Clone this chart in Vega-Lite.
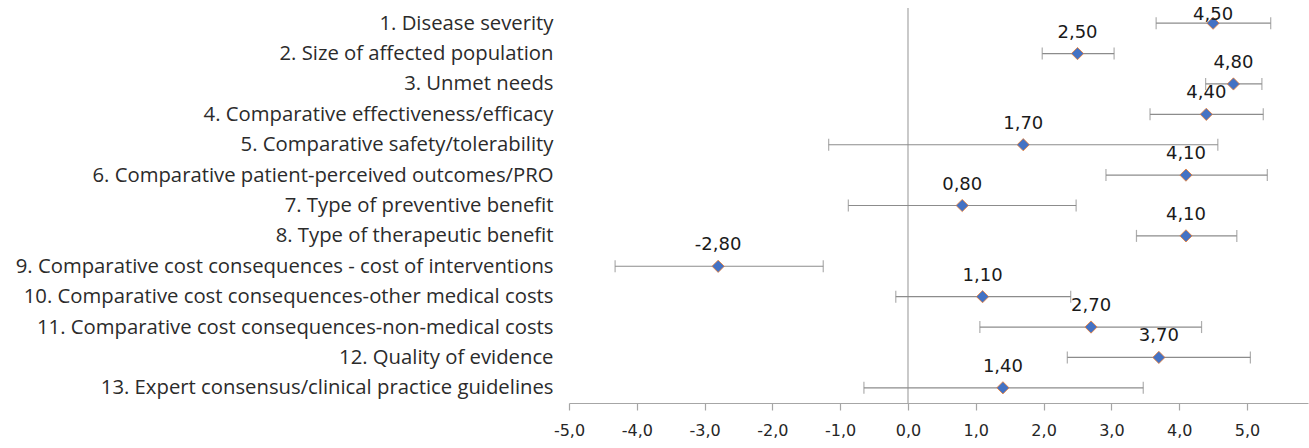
{
  "$schema": "https://vega.github.io/schema/vega-lite/v6.json",
  "autosize": {"type": "none"},
  "padding": {"left": 569, "top": 8, "right": 1, "bottom": 45},
  "width": 739,
  "height": 395,
  "background": "white",
  "config": {
    "view": {"stroke": null},
    "locale": {"number": {"decimal": ",", "thousands": ".", "grouping": [3], "currency": ["", ""], "minus": "-"}}
  },
  "datasets": {
    "criteria": [
      {"n": 1, "criterion": "1. Disease severity", "value": 4.5, "lo": 3.66, "hi": 5.35},
      {"n": 2, "criterion": "2. Size of affected population", "value": 2.5, "lo": 1.98, "hi": 3.04},
      {"n": 3, "criterion": "3. Unmet needs", "value": 4.8, "lo": 4.39, "hi": 5.22},
      {"n": 4, "criterion": "4. Comparative effectiveness/efficacy", "value": 4.4, "lo": 3.57, "hi": 5.24},
      {"n": 5, "criterion": "5. Comparative safety/tolerability", "value": 1.7, "lo": -1.17, "hi": 4.57},
      {"n": 6, "criterion": "6. Comparative patient-perceived outcomes/PRO", "value": 4.1, "lo": 2.92, "hi": 5.3},
      {"n": 7, "criterion": "7. Type of preventive benefit", "value": 0.8, "lo": -0.88, "hi": 2.48},
      {"n": 8, "criterion": "8. Type of therapeutic benefit", "value": 4.1, "lo": 3.37, "hi": 4.85},
      {"n": 9, "criterion": "9. Comparative cost consequences - cost of interventions", "value": -2.8, "lo": -4.32, "hi": -1.25},
      {"n": 10, "criterion": "10. Comparative cost consequences-other medical costs", "value": 1.1, "lo": -0.18, "hi": 2.4},
      {"n": 11, "criterion": "11. Comparative cost consequences-non-medical costs", "value": 2.7, "lo": 1.06, "hi": 4.33},
      {"n": 12, "criterion": "12. Quality of evidence", "value": 3.7, "lo": 2.35, "hi": 5.05},
      {"n": 13, "criterion": "13. Expert consensus/clinical practice guidelines", "value": 1.4, "lo": -0.65, "hi": 3.47}
    ],
    "zero": [{"x": 0}]
  },
  "layer": [
    {
      "data": {"name": "zero"},
      "mark": {"type": "rule", "color": "#a6a6a6", "strokeWidth": 1.2},
      "encoding": {
        "x": {"field": "x", "type": "quantitative", "scale": {"domain": [-5, 5.9], "nice": false, "zero": false}}
      }
    },
    {
      "data": {"name": "criteria"},
      "layer": [
        {
          "mark": {"type": "rule", "color": "#8c8c8c", "strokeWidth": 1.2},
          "encoding": {
            "x": {"field": "lo", "type": "quantitative"},
            "x2": {"field": "hi"}
          }
        },
        {
          "mark": {"type": "tick", "color": "#8c8c8c", "thickness": 1.2, "size": 12},
          "encoding": {"x": {"field": "lo", "type": "quantitative"}}
        },
        {
          "mark": {"type": "tick", "color": "#8c8c8c", "thickness": 1.2, "size": 12},
          "encoding": {"x": {"field": "hi", "type": "quantitative"}}
        },
        {
          "mark": {"type": "point", "shape": "diamond", "filled": true, "fill": "#4472c4", "stroke": "#ed7d31", "strokeWidth": 0.8, "size": 150, "opacity": 1},
          "encoding": {"x": {"field": "value", "type": "quantitative"}}
        },
        {
          "mark": {"type": "text", "font": "DejaVu Sans", "fontSize": 18, "color": "#1a1a1a", "baseline": "middle", "align": "center", "dy": {"expr": "datum.n == 1 ? -8 : -21"}},
          "encoding": {
            "x": {"field": "value", "type": "quantitative"},
            "text": {"field": "value", "type": "quantitative", "format": ".2f"}
          }
        }
      ],
      "encoding": {
        "y": {
          "field": "criterion",
          "type": "nominal",
          "sort": {"field": "n", "order": "ascending"},
          "scale": {"type": "point", "padding": 0.5},
          "axis": {"title": null, "domain": false, "ticks": false, "labelPadding": 16, "labelFont": "Open Sans", "labelFontSize": 20.3, "labelColor": "#2b2b2b", "labelLimit": 0}
        }
      }
    }
  ],
  "resolve": {"scale": {"x": "shared"}},
  "encoding": {
    "x": {
      "type": "quantitative",
      "axis": {
        "title": null,
        "values": [-5, -4, -3, -2, -1, 0, 1, 2, 3, 4, 5],
        "format": ".1f",
        "grid": false,
        "domainColor": "#a6a6a6",
        "domainWidth": 1.2,
        "tickColor": "#a6a6a6",
        "tickWidth": 1.2,
        "tickSize": 7,
        "labelPadding": 12,
        "labelFont": "DejaVu Sans",
        "labelFontSize": 16,
        "labelColor": "#262626",
        "labelFlush": false
      }
    }
  }
}
